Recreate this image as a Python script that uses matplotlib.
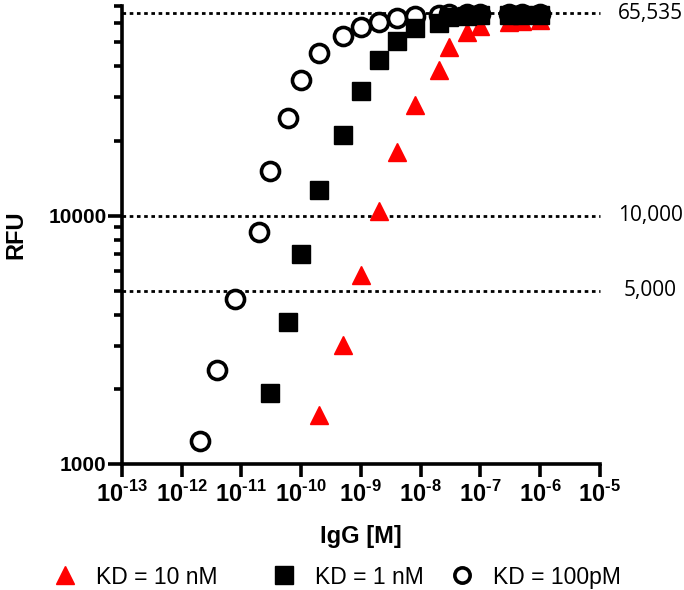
import matplotlib.pyplot as plt
import matplotlib.transforms as mtransforms
from matplotlib.lines import Line2D
from matplotlib.ticker import LogLocator, NullFormatter, FixedLocator

# IgG concentration [M] and signal (RFU)
conc_100pm = [2e-12, 4e-12, 8e-12, 2e-11, 3e-11, 6e-11, 1e-10, 2e-10, 5e-10, 1e-9,
              2e-9, 4e-9, 8e-9, 2e-8, 3e-8, 6e-8, 1e-7, 3e-7, 5e-7, 1e-6]
rfu_100pm = [1240, 2390, 4630, 8610, 15200, 24850, 35300, 45400, 53200, 57800,
             60600, 62850, 64000, 64600, 64800, 65000, 65000, 65200, 65200, 65200]

conc_1nm = [3e-11, 6e-11, 1e-10, 2e-10, 5e-10, 1e-9, 2e-9, 4e-9, 8e-9, 2e-8,
            3e-8, 6e-8, 1e-7, 3e-7, 5e-7, 1e-6]
rfu_1nm = [1930, 3740, 7030, 12730, 21220, 31900, 42560, 50800, 57300, 60000,
           63500, 64000, 64200, 64600, 64600, 64600]

conc_10nm = [2e-10, 5e-10, 1e-9, 2e-9, 4e-9, 8e-9, 2e-8, 3e-8, 6e-8, 1e-7,
             3e-7, 5e-7, 1e-6]
rfu_10nm = [1580, 3020, 5780, 10470, 18120, 28030, 38770, 48000, 55200, 58300,
            60600, 61100, 61700]

ref_levels = [65535, 10000, 5000]
ref_labels = ["65,535", "10,000", "5,000"]
x_exponents = list(range(-13, -4))

plt.rcParams['font.family'] = ['Liberation Sans', 'DejaVu Sans']
plt.rcParams['mathtext.fontset'] = 'custom'
plt.rcParams['mathtext.rm'] = 'Liberation Sans:bold'
plt.rcParams['mathtext.bf'] = 'Liberation Sans:bold'

fig = plt.figure(figsize=(6.84, 5.9), dpi=100)
ax = fig.add_axes([0.178, 0.2136, 0.699, 0.776])

# reference lines + their labels on the right
trans = mtransforms.blended_transform_factory(ax.transAxes, ax.transData)
for lvl, lab in zip(ref_levels, ref_labels):
    ax.plot([1e-13, 1e-5], [lvl, lvl], color="black", lw=2.0,
            linestyle=(0, (1.3, 1.3)), zorder=1, clip_on=False)
    ax.text(1.105, lvl, lab, fontsize=15, va="center", ha="center",
            family=["Open Sans", "DejaVu Sans"], transform=trans, clip_on=False)

ax.plot(conc_100pm, rfu_100pm, linestyle="none", marker="o", ms=13,
        mfc="white", mec="black", mew=2.6, zorder=3, clip_on=False)
ax.plot(conc_10nm, rfu_10nm, linestyle="none", marker="^", ms=12.5,
        color="#ff0000", zorder=4, clip_on=False)
ax.plot(conc_1nm, rfu_1nm, linestyle="none", marker="s", ms=13,
        color="black", zorder=5, clip_on=False)

ax.set_xscale("log")
ax.set_yscale("log")
ax.set_xlim(1e-13, 1e-5)
ax.set_ylim(1000, 70000)

ax.xaxis.set_major_locator(FixedLocator([10.0 ** k for k in x_exponents]))
ax.xaxis.set_minor_locator(FixedLocator([]))
ax.set_xticklabels(["10$^{\\text{-}%d}$" % -k for k in x_exponents],
                   fontweight="bold", fontsize=17)
ax.yaxis.set_major_locator(FixedLocator([1000, 10000]))
ax.yaxis.set_minor_locator(LogLocator(base=10, subs=range(2, 10)))
ax.yaxis.set_minor_formatter(NullFormatter())
ax.set_yticklabels(["1000", "10000"], fontweight="bold", fontsize=15)

for s in ["top", "right"]:
    ax.spines[s].set_visible(False)
for s in ["left", "bottom"]:
    ax.spines[s].set_linewidth(2.6)

ax.tick_params(axis="x", which="major", length=9, width=2.6, pad=3)
ax.tick_params(axis="y", which="major", length=10, width=2.6, pad=1)
ax.tick_params(axis="y", which="minor", length=6, width=2.6)

ax.set_xlabel("IgG [M]", fontsize=17, fontweight="bold", va="center")
ax.xaxis.set_label_coords(0.5, -0.159)
ax.set_ylabel("RFU", fontsize=17, fontweight="bold", va="center")
ax.yaxis.set_label_coords(-0.222, 0.5)

# legend: three entries at their own places
entries = [
    (Line2D([], [], linestyle="none", marker="^", ms=12.5, color="#ff0000"), "KD = 10 nM", 0.079),
    (Line2D([], [], linestyle="none", marker="s", ms=13, color="black"), "KD = 1 nM", 0.399),
    (Line2D([], [], linestyle="none", marker="o", ms=11, mfc="white", mec="black", mew=2.6),
     "KD = 100pM", 0.659),
]
for handle, label, x0 in entries:
    fig.legend([handle], [label], loc="center left", bbox_to_anchor=(x0, 0.022),
               frameon=False, fontsize=16.5, handlelength=1.0, handletextpad=0.85,
               borderpad=0, borderaxespad=0)

fig.savefig("out.png", dpi=100)
